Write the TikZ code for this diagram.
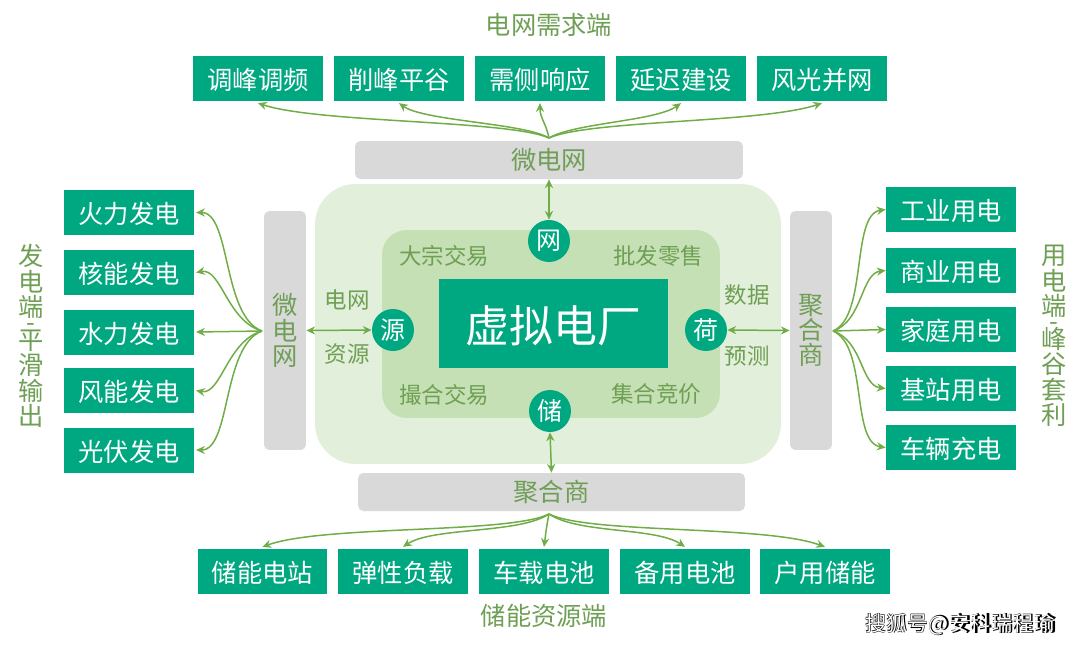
\documentclass[tikz,border=0pt]{standalone}
\usepackage{fontspec}
\setmainfont{Noto Sans CJK SC}
\usepackage{xcolor}
\usetikzlibrary{arrows.meta}
\definecolor{vppgreen}{HTML}{00A882}
\definecolor{vpptext}{HTML}{6F9F55}
\definecolor{vppline}{HTML}{70AD47}
\definecolor{vppgrey}{HTML}{D9D9D9}
\definecolor{vppouter}{HTML}{E2EFDA}
\definecolor{vppinner}{HTML}{C5E0B4}

\begin{document}
\begin{tikzpicture}[
  x=0.02cm, y=-0.02cm,
  endbox/.style={rectangle, fill=vppgreen, text=white, inner sep=0pt,
    minimum width=2.6cm, minimum height=0.9cm, text height=13.2pt, text depth=0.5pt,
    font=\fontsize{14.4}{16}\selectfont},
  greybar/.style={rectangle, rounded corners=3pt, fill=vppgrey, text=vpptext, inner sep=0pt,
    align=center, font=\fontsize{14.4}{14.4}\selectfont},
  hub/.style={circle, fill=vppgreen, text=white, inner sep=0pt,
    minimum size=0.84cm, font=\fontsize{14.2}{16}\selectfont},
  caption/.style={text=vpptext, inner sep=0pt, align=center,
    font=\fontsize{14.4}{14.4}\selectfont},
  tag/.style={text=vpptext, inner sep=0pt, font=\fontsize{12.8}{14}\selectfont},
  flow/.style={->, draw=vppline, line width=0.85pt},
  link/.style={<->, draw=vppline, line width=0.85pt},
  >={Stealth[length=5pt,width=4.6pt]}
]
\useasboundingbox (0,0) rectangle (1080,647);

% centre block
\node[rectangle, rounded corners=23pt, fill=vppouter, minimum width=9.32cm, minimum height=5.6cm] (outer) at (548,324) {};
\node[rectangle, rounded corners=14pt, fill=vppinner, minimum width=6.76cm, minimum height=3.76cm] (inner) at (551,324) {};
\node[rectangle, fill=vppgreen, text=white, inner sep=0pt, minimum width=4.58cm, minimum height=1.78cm,
  text height=22pt, text depth=0.8pt, font=\fontsize{25}{28}\selectfont] (vpp) at (553.5,323.5) {虚拟电厂};
\node[hub] (wang) at (549,241) {网};
\node[hub] (yuan) at (393,330) {源};
\node[hub] (he) at (706,330) {荷};
\node[hub] (chu) at (550,411) {储};
\node[tag] (trade1) at (444,256) {大宗交易};
\node[tag] (trade2) at (658,256) {批发零售};
\node[tag] (trade3) at (444,395) {撮合交易};
\node[tag] (trade4) at (656,394) {集合竞价};
\node[tag] (tagA) at (347,300) {电网};
\node[tag] (tagB) at (347,354) {资源};
\node[tag] (tagC) at (747,295) {数据};
\node[tag] (tagD) at (747,356) {预测};

% grey bars
\node[greybar, minimum width=7.76cm, minimum height=0.76cm] (barT) at (549,160) {微电网};
\node[greybar, minimum width=7.74cm, minimum height=0.76cm] (barB) at (551.5,492) {聚合商};
\node[greybar, minimum width=0.84cm, minimum height=4.78cm] (barL) at (285,330.5) {微\\电\\网};
\node[greybar, minimum width=0.84cm, minimum height=4.78cm] (barR) at (811,330.5) {聚\\合\\商};

% top row
\node[endbox] (t1) at (258,78.5) {调峰调频};
\node[endbox] (t2) at (399,78.5) {削峰平谷};
\node[endbox] (t3) at (540,78.5) {需侧响应};
\node[endbox] (t4) at (681,78.5) {延迟建设};
\node[endbox] (t5) at (822,78.5) {风光并网};

% bottom row
\node[endbox] (b1) at (262.5,571.5) {储能电站};
\node[endbox] (b2) at (403,571.5) {弹性负载};
\node[endbox] (b3) at (544,571.5) {车载电池};
\node[endbox] (b4) at (685,571.5) {备用电池};
\node[endbox] (b5) at (825,571.5) {户用储能};

% left column
\node[endbox] (l1) at (129,212.5) {火力发电};
\node[endbox] (l2) at (129,272.5) {核能发电};
\node[endbox] (l3) at (129,332) {水力发电};
\node[endbox] (l4) at (129,390.5) {风能发电};
\node[endbox] (l5) at (129,450) {光伏发电};

% right column
\node[endbox] (r1) at (951,209.5) {工业用电};
\node[endbox] (r2) at (951,270.5) {商业用电};
\node[endbox] (r3) at (951,329.5) {家庭用电};
\node[endbox] (r4) at (951,388.5) {基站用电};
\node[endbox] (r5) at (951,447.5) {车辆充电};

% captions
\node[caption] (capT) at (549,25) {电网需求端};
\node[caption] (capB) at (544,616) {储能资源端};
\node[caption] (capL) at (31,336) {发\\电\\端\\[-6pt]-\\[-4pt]平\\滑\\输\\出};
\node[caption] (capR) at (1054,336) {用\\电\\端\\[-6pt]-\\[-4pt]峰\\谷\\套\\利};

% watermark
\node[text=black, inner sep=0pt, font=\bfseries\fontsize{12}{14}\selectfont] (markB) at (960.8,624.8) {搜狐号@安科瑞程瑜};
\node[text=white, inner sep=0pt, font=\fontsize{12}{14}\selectfont] (markW) at (960,624) {搜狐号@安科瑞程瑜};

% fan points
\coordinate (fanT) at (549,138);
\coordinate (fanB) at (549,514);
\coordinate (fanL) at (262,331);
\coordinate (fanR) at (833,331);

% links to the centre
\draw[link] (barT.south) -- (wang.north);
\draw[link] (barB.north) -- (chu.south);
\draw[link] (barL.east) -- (yuan.west);
\draw[link] (barR.west) -- (he.east);

% top fan
\draw[flow] (fanT) .. controls +(-40,-18) and +(60,20) .. ([yshift=-1pt]t1.south);
\draw[flow] (fanT) .. controls +(-25,-15) and +(25,18) .. ([yshift=-1pt]t2.south);
\draw[flow] (fanT) .. controls +(-3,-15) and +(0,15) .. ([yshift=-1pt]t3.south);
\draw[flow] (fanT) .. controls +(25,-15) and +(-25,18) .. ([yshift=-1pt]t4.south);
\draw[flow] (fanT) .. controls +(40,-18) and +(-60,20) .. ([yshift=-1pt]t5.south);

% bottom fan
\draw[flow] (fanB) .. controls +(-40,20) and +(60,-22) .. ([yshift=1pt]b1.north);
\draw[flow] (fanB) .. controls +(-30,20) and +(30,-20) .. ([yshift=1pt]b2.north);
\draw[flow] (fanB) .. controls +(-3,15) and +(2,-15) .. ([yshift=1pt]b3.north);
\draw[flow] (fanB) .. controls +(30,20) and +(-30,-20) .. ([yshift=1pt]b4.north);
\draw[flow] (fanB) .. controls +(40,20) and +(-60,-22) .. ([yshift=1pt]b5.north);

% left fan
\draw[flow] (fanL) .. controls +(-40,-15) and +(35,0) .. ([xshift=1pt]l1.east);
\draw[flow] (fanL) .. controls +(-35,-10) and +(25,-5) .. ([xshift=1pt]l2.east);
\draw[flow] (fanL) -- ([xshift=1pt]l3.east);
\draw[flow] (fanL) .. controls +(-35,10) and +(25,5) .. ([xshift=1pt]l4.east);
\draw[flow] (fanL) .. controls +(-40,15) and +(35,0) .. ([xshift=1pt]l5.east);

% right fan
\draw[flow] (fanR) .. controls +(35,-15) and +(-35,5) .. (r1.west);
\draw[flow] (fanR) .. controls +(30,-10) and +(-25,3) .. (r2.west);
\draw[flow] (fanR) -- (r3.west);
\draw[flow] (fanR) .. controls +(30,10) and +(-25,-3) .. (r4.west);
\draw[flow] (fanR) .. controls +(35,15) and +(-35,-5) .. (r5.west);
\end{tikzpicture}
\end{document}
